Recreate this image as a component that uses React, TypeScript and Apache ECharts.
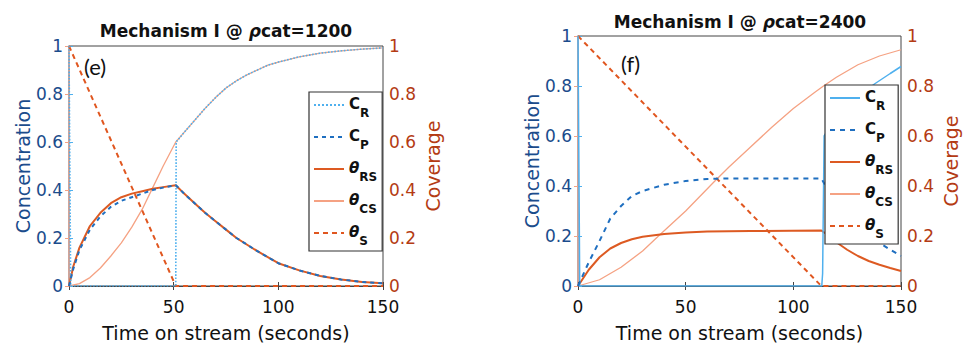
import { useEffect, useRef } from 'react';
import * as echarts from 'echarts';

// ---------- panel (e): rho_cat = 1200 ----------
const E_T_CR = [0, 0.8, 51, 51.2, 55, 60, 65, 70, 75, 80, 85, 90, 95, 100, 110, 120, 130, 140, 150];
const E_CR = [1, 0, 0, 0.6, 0.64, 0.69, 0.74, 0.785, 0.825, 0.855, 0.88, 0.9, 0.92, 0.933, 0.955, 0.97, 0.98, 0.987, 0.992];
const E_T_CP = [0, 2, 5, 10, 15, 20, 25, 30, 35, 40, 45, 51, 55, 60, 65, 70, 75, 80, 90, 100, 110, 120, 130, 140, 150];
const E_CP = [0, 0.07, 0.15, 0.235, 0.29, 0.33, 0.355, 0.37, 0.385, 0.4, 0.41, 0.42, 0.385, 0.345, 0.305, 0.27, 0.235, 0.2, 0.145, 0.095, 0.065, 0.042, 0.027, 0.017, 0.011];
const E_RS = [0, 0.08, 0.16, 0.25, 0.305, 0.345, 0.37, 0.385, 0.395, 0.405, 0.412, 0.42, 0.385, 0.345, 0.305, 0.27, 0.235, 0.2, 0.145, 0.095, 0.065, 0.042, 0.027, 0.017, 0.011];
const E_T_CS = [0, 5, 10, 15, 20, 25, 30, 35, 40, 45, 51, 55, 60, 65, 70, 75, 80, 85, 90, 95, 100, 110, 120, 130, 140, 150];
const E_CS = [0, 0.01, 0.035, 0.075, 0.125, 0.18, 0.245, 0.32, 0.41, 0.5, 0.6, 0.64, 0.69, 0.74, 0.785, 0.825, 0.855, 0.88, 0.9, 0.92, 0.933, 0.955, 0.97, 0.98, 0.987, 0.992];
const E_T_S = [0, 51, 150];
const E_S = [1, 0, 0];

// ---------- panel (f): rho_cat = 2400 ----------
const F_T_CR = [0, 0.8, 113.2, 113.6, 114.3, 120, 130, 138, 145, 150];
const F_CR = [1, 0, 0, 0.05, 0.6, 0.68, 0.76, 0.81, 0.85, 0.878];
const F_T_CP = [0, 5, 10, 15, 20, 25, 30, 40, 50, 60, 70, 113, 115, 120, 125, 130, 135, 140, 145, 150];
const F_CP = [0, 0.095, 0.18, 0.27, 0.32, 0.36, 0.38, 0.405, 0.42, 0.428, 0.43, 0.43, 0.4, 0.345, 0.29, 0.245, 0.205, 0.172, 0.145, 0.12];
const F_T_RS = [0, 5, 10, 15, 20, 25, 30, 40, 50, 60, 80, 113, 115, 120, 125, 130, 135, 140, 145, 150];
const F_RS = [0, 0.065, 0.115, 0.15, 0.172, 0.187, 0.197, 0.208, 0.214, 0.218, 0.22, 0.222, 0.21, 0.175, 0.145, 0.12, 0.1, 0.085, 0.072, 0.06];
const F_T_CS = [0, 10, 20, 30, 38, 50, 63, 70, 80, 90, 100, 110, 114, 120, 130, 140, 150];
const F_CS = [0, 0.025, 0.075, 0.14, 0.205, 0.3, 0.415, 0.475, 0.555, 0.635, 0.71, 0.775, 0.8, 0.835, 0.885, 0.92, 0.945];
const F_T_S = [0, 113, 150];
const F_S = [1, 0, 0];

const TITLES = ['Mechanism I @ {i|ρ}cat=1200', 'Mechanism I @ {i|ρ}cat=2400'];
const PANEL_LABELS = ['(e)', '(f)'];
const X_NAME = 'Time on stream (seconds)';
const Y_NAME_L = 'Concentration';
const Y_NAME_R = 'Coverage';

const LEGEND_TEXT: Record<string, string> = {
  CR: '{m|C}{s|R}',
  CP: '{m|C}{s|P}',
  RS: '{t|θ}{s|RS}',
  CS: '{t|θ}{s|CS}',
  S: '{t|θ}{s|S}',
};

const FONT = 'DejaVu Sans';
const C_LIGHT = '#4fb0ee';
const C_BLUE = '#1f6fc0';
const C_RS = '#dd5a22';
const C_CS = '#f5a283';
const C_S = '#e0561f';
const AX_BLUE = '#1b4c8c';
const AX_RED = '#b43b14';

const pairs = (t: number[], v: number[]) => t.map((x, i) => [x, v[i]]);

export default function App() {
  const ref = useRef<HTMLDivElement>(null);
  useEffect(() => {
    if (!ref.current) return;
    const chart = echarts.init(ref.current, undefined, { renderer: 'svg' });

    const grids = [
      { left: 69, right: 581, top: 46, bottom: 58 },
      { left: 578, right: 63, top: 36, bottom: 60 },
    ];

    const xAxes: any[] = grids.map((_, gi) => ({
      gridIndex: gi,
      type: 'value',
      position: 'bottom',
      min: 0,
      max: 150,
      interval: 50,
      axisLine: { lineStyle: { color: '#444', width: 1 } },
      axisTick: { inside: true, length: 4, lineStyle: { color: '#444' } },
      axisLabel: { color: '#111', fontSize: 17, margin: 12, fontFamily: FONT },
      splitLine: { show: false },
      name: X_NAME,
      nameLocation: 'middle',
      nameGap: 37,
      nameTextStyle: { color: '#111', fontSize: 19, fontFamily: FONT },
    }));
    grids.forEach((_, gi) => {
      xAxes.push({
        gridIndex: gi,
        type: 'value',
        position: 'top',
        min: 0,
        max: 150,
        interval: 50,
        axisLine: { show: true, lineStyle: { color: '#444', width: 1 } },
        axisTick: { inside: true, length: 4, lineStyle: { color: '#444' } },
        axisLabel: { show: false },
        splitLine: { show: false },
      });
    });

    const yAxes: any[] = [];
    grids.forEach((_, gi) => {
      yAxes.push({
        gridIndex: gi,
        type: 'value',
        position: 'left',
        min: 0,
        max: 1,
        interval: 0.2,
        axisLine: { show: true, lineStyle: { color: C_LIGHT, width: 1.5 } },
        axisTick: { show: true, inside: true, length: 4, lineStyle: { color: C_LIGHT } },
        axisLabel: { color: AX_BLUE, fontSize: 17, margin: 6, fontFamily: FONT },
        splitLine: { show: false },
        name: Y_NAME_L,
        nameLocation: 'middle',
        nameRotate: 90,
        nameGap: 36,
        nameTextStyle: { color: AX_BLUE, fontSize: 19, fontFamily: FONT },
      });
      yAxes.push({
        gridIndex: gi,
        type: 'value',
        position: 'right',
        min: 0,
        max: 1,
        interval: 0.2,
        axisLine: { show: true, lineStyle: { color: C_CS, width: 1.5 } },
        axisTick: { show: true, inside: true, length: 4, lineStyle: { color: C_CS } },
        axisLabel: { color: AX_RED, fontSize: 17, margin: 6, fontFamily: FONT },
        splitLine: { show: false },
        name: Y_NAME_R,
        nameLocation: 'middle',
        nameRotate: 90,
        nameGap: 40,
        nameTextStyle: { color: AX_RED, fontSize: 19, fontFamily: FONT },
      });
    });

    const mk = (name: string, gi: number, yi: number, data: number[][], color: string, type: any, width: number) => ({
      name,
      type: 'line',
      xAxisIndex: gi,
      yAxisIndex: yi,
      data,
      symbol: 'none',
      showSymbol: false,
      lineStyle: { color, type, width },
      itemStyle: { color },
    });

    const series = [
      mk('eCS', 0, 1, pairs(E_T_CS, E_CS), C_CS, 'solid', 1.3),
      mk('eS', 0, 1, pairs(E_T_S, E_S), C_S, [5, 4], 2),
      mk('eRS', 0, 1, pairs(E_T_CP, E_RS), C_RS, 'solid', 2),
      mk('eCR', 0, 0, pairs(E_T_CR, E_CR), C_LIGHT, 'dotted', 1.6),
      mk('eCP', 0, 0, pairs(E_T_CP, E_CP), C_BLUE, [4, 4], 2),
      mk('fCS', 1, 3, pairs(F_T_CS, F_CS), C_CS, 'solid', 1.3),
      mk('fS', 1, 3, pairs(F_T_S, F_S), C_S, [5, 4], 2),
      mk('fRS', 1, 3, pairs(F_T_RS, F_RS), C_RS, 'solid', 2),
      mk('fCR', 1, 2, pairs(F_T_CR, F_CR), C_LIGHT, 'solid', 1.5),
      mk('fCP', 1, 2, pairs(F_T_CP, F_CP), C_BLUE, [5, 5], 2),
    ];

    const rich = {
      m: { fontSize: 15, lineHeight: 18, verticalAlign: 'top', color: '#111', fontFamily: FONT, fontWeight: 'bold' },
      t: { fontSize: 15, lineHeight: 18, verticalAlign: 'top', color: '#111', fontFamily: FONT, fontStyle: 'italic', fontWeight: 'bold' },
      s: { fontSize: 12, lineHeight: 12, padding: [11, 0, 0, 0], verticalAlign: 'top', color: '#111', fontFamily: FONT, fontWeight: 'bold' },
    };
    const legendBase = {
      orient: 'vertical',
      itemWidth: 30,
      itemHeight: 2,
      itemGap: 9,
      padding: [4, 5, 4, 4],
      backgroundColor: '#fff',
      borderColor: '#333',
      borderWidth: 1.2,
      itemStyle: { opacity: 0 },
      formatter: (n: string) => LEGEND_TEXT[n.slice(1)],
      textStyle: { rich },
      selectedMode: false,
    };
    const legend = [
      { ...legendBase, left: 309, top: 92, data: ['eCR', 'eCP', 'eRS', 'eCS', 'eS'] },
      { ...legendBase, left: 825, top: 85, data: ['fCR', 'fCP', 'fRS', 'fCS', 'fS'] },
    ];

    const titleCenters = [[226, 31], [740, 22]];
    const labelPos = [[84, 66], [621, 63]];
    const graphic: any[] = [];
    TITLES.forEach((t, i) => {
      graphic.push({
        type: 'text',
        x: titleCenters[i][0],
        y: titleCenters[i][1],
        style: {
          text: t,
          align: 'center',
          verticalAlign: 'middle',
          fontSize: 17,
          fontWeight: 'bold',
          fontFamily: FONT,
          fill: '#111',
          rich: { i: { fontSize: 17, fontWeight: 'bold', fontStyle: 'italic', fontFamily: FONT, fill: '#111' } },
        },
      });
      graphic.push({
        type: 'text',
        x: labelPos[i][0],
        y: labelPos[i][1],
        style: {
          text: PANEL_LABELS[i],
          align: 'left',
          verticalAlign: 'middle',
          fontSize: 22,
          fontFamily: 'Lato',
          fill: '#111',
        },
      });
    });

    chart.setOption({
      animation: false,
      backgroundColor: '#fff',
      grid: grids.map((g) => ({ ...g, show: true, borderColor: '#444', borderWidth: 1, backgroundColor: 'transparent' })),
      xAxis: xAxes,
      yAxis: yAxes,
      legend,
      series,
      graphic,
    });
    return () => chart.dispose();
  }, []);
  return <div ref={ref} style={{ width: 964, height: 347, position: 'absolute', left: 0, top: 0 }} />;
}
